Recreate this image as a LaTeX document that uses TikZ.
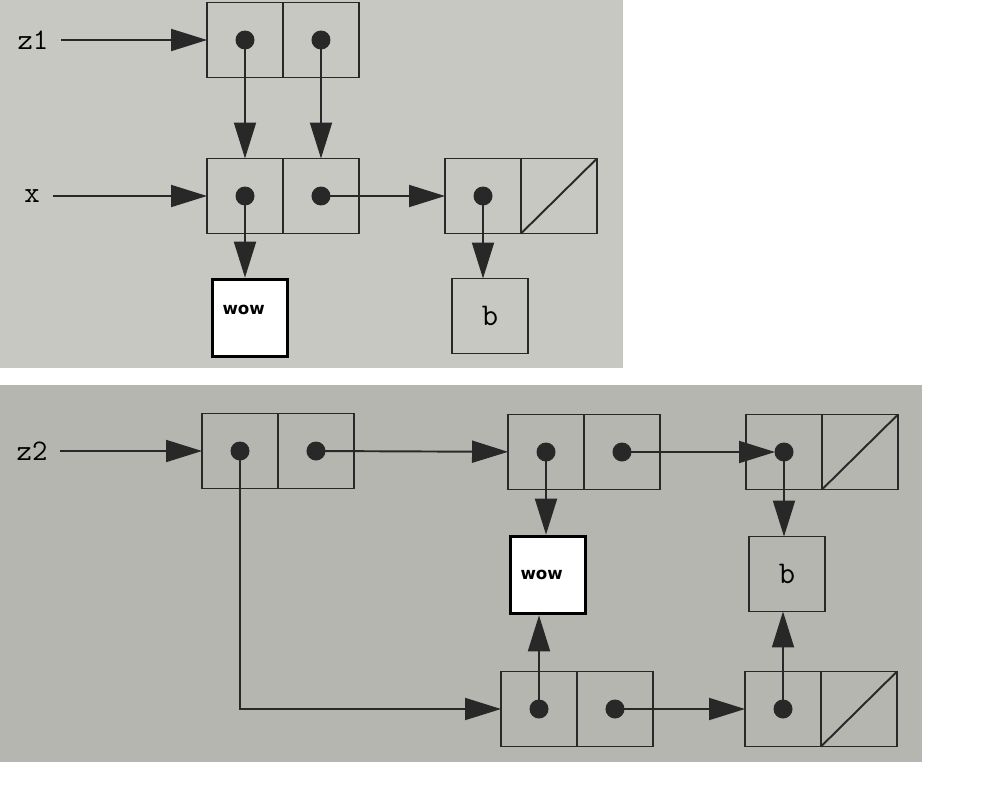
\documentclass[tikz,border=0pt]{standalone}
\usepackage{fontspec}
\setmainfont{DejaVu Sans}
\usetikzlibrary{arrows.meta,positioning}
\definecolor{pagetop}{RGB}{200,200,195}
\definecolor{pagebot}{RGB}{182,182,176}
\definecolor{ink}{RGB}{40,40,40}

\begin{document}
\begin{tikzpicture}[x=0.02cm, y=-0.02cm,
    cell/.style={rectangle, draw=ink, line width=1.1pt, minimum width=1.52cm, minimum height=1.5cm, inner sep=0pt, outer sep=0pt},
    atom/.style={cell, font=\ttfamily\fontsize{18}{18}\selectfont},
    wowbox/.style={rectangle, draw=black, line width=1.8pt, fill=white, minimum width=1.5cm, minimum height=1.55cm, inner xsep=0.2cm, inner ysep=0.2cm, text width=1.1cm, align=left, font=\bfseries\fontsize{9.5}{11}\selectfont},
    var/.style={font=\ttfamily\fontsize{17}{18}\selectfont, inner xsep=0.25cm},
    ptr/.style={draw=ink, line width=1.1pt, -{Triangle[length=0.72cm,width=0.44cm]}},
    nil/.style={draw=ink, line width=1.1pt}
]
\useasboundingbox (0,0) rectangle (1000,808);
\fill[pagetop] (0,0) rectangle (623,368);
\fill[pagebot] (0,385) rectangle (922,762);

\node[cell] (z1a) at (245,40) {};
\node[cell, right=0pt of z1a] (z1d) {};
\node[cell] (xa) at (245,196) {};
\node[cell, right=0pt of xa] (xd) {};
\node[cell] (xna) at (483,196) {};
\node[cell, right=0pt of xna] (xnd) {};
\node[wowbox, text height=0.5cm, text depth=0.65cm] (wowx) at (250,318) {wow};
\node[atom] (bx) at (490,316) {b};
\node[var] (z1) at (33,40) {z1};
\node[var] (xv) at (32,196) {x};

\draw[ptr] (z1) -- (z1a);
\draw[ptr] (xv) -- (xa);
\draw[ptr] (z1a.center) -- (xa);
\draw[ptr] (z1d.center) -- (xd);
\draw[ptr] (xd.center) -- (xna);
\draw[ptr] (xa.center) -- (xa.center |- wowx.north);
\draw[ptr] (xna.center) -- (xna.center |- bx.north);
\draw[nil] (xnd.south west) -- (xnd.north east);
\foreach \c in {z1a,z1d,xa,xd,xna}
    \fill[ink] (\c.center) circle (0.19cm);

\node[cell] (pa) at (240,451) {};
\node[cell, right=0pt of pa] (pd) {};
\node[cell] (qa) at (546,452) {};
\node[cell, right=0pt of qa] (qd) {};
\node[cell] (ra) at (784,452) {};
\node[cell, right=0pt of ra] (rd) {};
\node[wowbox] (wowz) at (548,575) {wow};
\node[atom] (bz) at (787,574) {b};
\node[cell] (sa) at (539,709) {};
\node[cell, right=0pt of sa] (sd) {};
\node[cell] (ta) at (783,709) {};
\node[cell, right=0pt of ta] (td) {};
\node[var] (z2) at (32,451) {z2};

\draw[ptr] (z2) -- (pa);
\draw[ptr] (pa.center) |- (sa);
\draw[ptr] (pd.center) -- (qa);
\draw[ptr, shorten >=0.18cm] (qd.center) -- (ra.center);
\draw[ptr] (qa.center) -- (qa.center |- wowz.north);
\draw[ptr] (ra.center) -- (ra.center |- bz.north);
\draw[ptr] (sa.center) -- (sa.center |- wowz.south);
\draw[ptr] (sd.center) -- (ta);
\draw[ptr] (ta.center) -- (ta.center |- bz.south);
\draw[nil] (rd.south west) -- (rd.north east);
\draw[nil] (td.south west) -- (td.north east);
\foreach \c in {pa,pd,qa,qd,ra,sa,sd,ta}
    \fill[ink] (\c.center) circle (0.19cm);
\end{tikzpicture}
\end{document}
